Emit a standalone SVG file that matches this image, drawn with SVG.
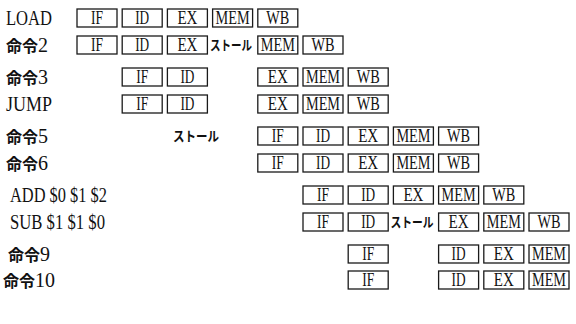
<svg xmlns="http://www.w3.org/2000/svg" width="576" height="324" viewBox="0 0 576 324">
  <style>
    .box{fill:#fff;stroke:#1a1a1a;stroke-width:1.3}
    .st{font-family:"Liberation Serif",serif;font-size:18.5px;fill:#111;text-anchor:middle}
    .lbl{font-family:"Liberation Serif",serif;font-size:20px;fill:#111}
    .kj{font-family:"Noto Sans CJK JP",sans-serif;font-size:16px;font-weight:700}
    .stall{font-family:"Noto Sans CJK JP",sans-serif;font-size:13.5px;font-weight:700;fill:#111;text-anchor:middle}
  </style>

  <!-- instruction labels -->
  <g id="labels">
    <text class="lbl" x="6" y="24.5" textLength="46" lengthAdjust="spacingAndGlyphs">LOAD</text>
    <text class="lbl" x="6" y="51.5"><tspan class="kj">命令</tspan>2</text>
    <text class="lbl" x="6" y="83.5"><tspan class="kj">命令</tspan>3</text>
    <text class="lbl" x="6" y="110.5" textLength="46" lengthAdjust="spacingAndGlyphs">JUMP</text>
    <text class="lbl" x="6" y="142.5"><tspan class="kj">命令</tspan>5</text>
    <text class="lbl" x="6" y="169.5"><tspan class="kj">命令</tspan>6</text>
    <text class="lbl" x="10" y="201.5" textLength="97" lengthAdjust="spacingAndGlyphs">ADD $0 $1 $2</text>
    <text class="lbl" x="10" y="228.5" textLength="95" lengthAdjust="spacingAndGlyphs">SUB $1 $1 $0</text>
    <text class="lbl" x="8" y="260.5"><tspan class="kj">命令</tspan>9</text>
    <text class="lbl" x="3" y="286.5"><tspan class="kj">命令</tspan>10</text>
  </g>

  <!-- row 1: LOAD -->
  <g id="r1">
    <g id="r1-if"><rect class="box" x="77" y="9" width="40" height="18"/><text class="st" x="97" y="24" textLength="12" lengthAdjust="spacingAndGlyphs">IF</text></g>
    <g id="r1-id"><rect class="box" x="122.2" y="9" width="40" height="18"/><text class="st" x="142.2" y="24" textLength="14" lengthAdjust="spacingAndGlyphs">ID</text></g>
    <g id="r1-ex"><rect class="box" x="167.4" y="9" width="40" height="18"/><text class="st" x="187.4" y="24" textLength="20" lengthAdjust="spacingAndGlyphs">EX</text></g>
    <g id="r1-mem"><rect class="box" x="212.6" y="9" width="40" height="18"/><text class="st" x="232.6" y="24" textLength="34" lengthAdjust="spacingAndGlyphs">MEM</text></g>
    <g id="r1-wb"><rect class="box" x="257.8" y="9" width="40" height="18"/><text class="st" x="277.8" y="24" textLength="23" lengthAdjust="spacingAndGlyphs">WB</text></g>
  </g>

  <!-- row 2 -->
  <g id="r2">
    <g id="r2-if"><rect class="box" x="77" y="36" width="40" height="18"/><text class="st" x="97" y="51" textLength="12" lengthAdjust="spacingAndGlyphs">IF</text></g>
    <g id="r2-id"><rect class="box" x="122.2" y="36" width="40" height="18"/><text class="st" x="142.2" y="51" textLength="14" lengthAdjust="spacingAndGlyphs">ID</text></g>
    <g id="r2-ex"><rect class="box" x="167.4" y="36" width="40" height="18"/><text class="st" x="187.4" y="51" textLength="20" lengthAdjust="spacingAndGlyphs">EX</text></g>
    <g id="r2-stall"><text class="stall" x="231" y="50" textLength="42" lengthAdjust="spacingAndGlyphs">ストール</text></g>
    <g id="r2-mem"><rect class="box" x="257.8" y="36" width="40" height="18"/><text class="st" x="277.8" y="51" textLength="34" lengthAdjust="spacingAndGlyphs">MEM</text></g>
    <g id="r2-wb"><rect class="box" x="303" y="36" width="40" height="18"/><text class="st" x="323" y="51" textLength="23" lengthAdjust="spacingAndGlyphs">WB</text></g>
  </g>

  <!-- row 3 -->
  <g id="r3">
    <g id="r3-if"><rect class="box" x="122.2" y="68" width="40" height="18"/><text class="st" x="142.2" y="83" textLength="12" lengthAdjust="spacingAndGlyphs">IF</text></g>
    <g id="r3-id"><rect class="box" x="167.4" y="68" width="40" height="18"/><text class="st" x="187.4" y="83" textLength="14" lengthAdjust="spacingAndGlyphs">ID</text></g>
    <g id="r3-ex"><rect class="box" x="257.8" y="68" width="40" height="18"/><text class="st" x="277.8" y="83" textLength="20" lengthAdjust="spacingAndGlyphs">EX</text></g>
    <g id="r3-mem"><rect class="box" x="303" y="68" width="40" height="18"/><text class="st" x="323" y="83" textLength="34" lengthAdjust="spacingAndGlyphs">MEM</text></g>
    <g id="r3-wb"><rect class="box" x="348.2" y="68" width="40" height="18"/><text class="st" x="368.2" y="83" textLength="23" lengthAdjust="spacingAndGlyphs">WB</text></g>
  </g>

  <!-- row 4: JUMP -->
  <g id="r4">
    <g id="r4-if"><rect class="box" x="122.2" y="95" width="40" height="18"/><text class="st" x="142.2" y="110" textLength="12" lengthAdjust="spacingAndGlyphs">IF</text></g>
    <g id="r4-id"><rect class="box" x="167.4" y="95" width="40" height="18"/><text class="st" x="187.4" y="110" textLength="14" lengthAdjust="spacingAndGlyphs">ID</text></g>
    <g id="r4-ex"><rect class="box" x="257.8" y="95" width="40" height="18"/><text class="st" x="277.8" y="110" textLength="20" lengthAdjust="spacingAndGlyphs">EX</text></g>
    <g id="r4-mem"><rect class="box" x="303" y="95" width="40" height="18"/><text class="st" x="323" y="110" textLength="34" lengthAdjust="spacingAndGlyphs">MEM</text></g>
    <g id="r4-wb"><rect class="box" x="348.2" y="95" width="40" height="18"/><text class="st" x="368.2" y="110" textLength="23" lengthAdjust="spacingAndGlyphs">WB</text></g>
  </g>

  <!-- row 5 -->
  <g id="r5">
    <g id="r5-stall"><text class="stall" x="196" y="141" textLength="46" lengthAdjust="spacingAndGlyphs">ストール</text></g>
    <g id="r5-if"><rect class="box" x="257.8" y="127" width="40" height="18"/><text class="st" x="277.8" y="142" textLength="12" lengthAdjust="spacingAndGlyphs">IF</text></g>
    <g id="r5-id"><rect class="box" x="303" y="127" width="40" height="18"/><text class="st" x="323" y="142" textLength="14" lengthAdjust="spacingAndGlyphs">ID</text></g>
    <g id="r5-ex"><rect class="box" x="348.2" y="127" width="40" height="18"/><text class="st" x="368.2" y="142" textLength="20" lengthAdjust="spacingAndGlyphs">EX</text></g>
    <g id="r5-mem"><rect class="box" x="393.4" y="127" width="40" height="18"/><text class="st" x="413.4" y="142" textLength="34" lengthAdjust="spacingAndGlyphs">MEM</text></g>
    <g id="r5-wb"><rect class="box" x="438.6" y="127" width="40" height="18"/><text class="st" x="458.6" y="142" textLength="23" lengthAdjust="spacingAndGlyphs">WB</text></g>
  </g>

  <!-- row 6 -->
  <g id="r6">
    <g id="r6-if"><rect class="box" x="257.8" y="154" width="40" height="18"/><text class="st" x="277.8" y="169" textLength="12" lengthAdjust="spacingAndGlyphs">IF</text></g>
    <g id="r6-id"><rect class="box" x="303" y="154" width="40" height="18"/><text class="st" x="323" y="169" textLength="14" lengthAdjust="spacingAndGlyphs">ID</text></g>
    <g id="r6-ex"><rect class="box" x="348.2" y="154" width="40" height="18"/><text class="st" x="368.2" y="169" textLength="20" lengthAdjust="spacingAndGlyphs">EX</text></g>
    <g id="r6-mem"><rect class="box" x="393.4" y="154" width="40" height="18"/><text class="st" x="413.4" y="169" textLength="34" lengthAdjust="spacingAndGlyphs">MEM</text></g>
    <g id="r6-wb"><rect class="box" x="438.6" y="154" width="40" height="18"/><text class="st" x="458.6" y="169" textLength="23" lengthAdjust="spacingAndGlyphs">WB</text></g>
  </g>

  <!-- row 7: ADD -->
  <g id="r7">
    <g id="r7-if"><rect class="box" x="303" y="186" width="40" height="18"/><text class="st" x="323" y="201" textLength="12" lengthAdjust="spacingAndGlyphs">IF</text></g>
    <g id="r7-id"><rect class="box" x="348.2" y="186" width="40" height="18"/><text class="st" x="368.2" y="201" textLength="14" lengthAdjust="spacingAndGlyphs">ID</text></g>
    <g id="r7-ex"><rect class="box" x="393.4" y="186" width="40" height="18"/><text class="st" x="413.4" y="201" textLength="20" lengthAdjust="spacingAndGlyphs">EX</text></g>
    <g id="r7-mem"><rect class="box" x="438.6" y="186" width="40" height="18"/><text class="st" x="458.6" y="201" textLength="34" lengthAdjust="spacingAndGlyphs">MEM</text></g>
    <g id="r7-wb"><rect class="box" x="483.8" y="186" width="40" height="18"/><text class="st" x="503.8" y="201" textLength="23" lengthAdjust="spacingAndGlyphs">WB</text></g>
  </g>

  <!-- row 8: SUB -->
  <g id="r8">
    <g id="r8-if"><rect class="box" x="303" y="213" width="40" height="18"/><text class="st" x="323" y="228" textLength="12" lengthAdjust="spacingAndGlyphs">IF</text></g>
    <g id="r8-id"><rect class="box" x="348.2" y="213" width="40" height="18"/><text class="st" x="368.2" y="228" textLength="14" lengthAdjust="spacingAndGlyphs">ID</text></g>
    <g id="r8-stall"><text class="stall" x="412" y="227" textLength="43" lengthAdjust="spacingAndGlyphs">ストール</text></g>
    <g id="r8-ex"><rect class="box" x="438.6" y="213" width="40" height="18"/><text class="st" x="458.6" y="228" textLength="20" lengthAdjust="spacingAndGlyphs">EX</text></g>
    <g id="r8-mem"><rect class="box" x="483.8" y="213" width="40" height="18"/><text class="st" x="503.8" y="228" textLength="34" lengthAdjust="spacingAndGlyphs">MEM</text></g>
    <g id="r8-wb"><rect class="box" x="529" y="213" width="40" height="18"/><text class="st" x="549" y="228" textLength="23" lengthAdjust="spacingAndGlyphs">WB</text></g>
  </g>

  <!-- row 9 -->
  <g id="r9">
    <g id="r9-if"><rect class="box" x="348.2" y="245" width="40" height="18"/><text class="st" x="368.2" y="260" textLength="12" lengthAdjust="spacingAndGlyphs">IF</text></g>
    <g id="r9-id"><rect class="box" x="438.6" y="245" width="40" height="18"/><text class="st" x="458.6" y="260" textLength="14" lengthAdjust="spacingAndGlyphs">ID</text></g>
    <g id="r9-ex"><rect class="box" x="483.8" y="245" width="40" height="18"/><text class="st" x="503.8" y="260" textLength="20" lengthAdjust="spacingAndGlyphs">EX</text></g>
    <g id="r9-mem"><rect class="box" x="529" y="245" width="40" height="18"/><text class="st" x="549" y="260" textLength="34" lengthAdjust="spacingAndGlyphs">MEM</text></g>
  </g>

  <!-- row 10 -->
  <g id="r10">
    <g id="r10-if"><rect class="box" x="348.2" y="271" width="40" height="18"/><text class="st" x="368.2" y="286" textLength="12" lengthAdjust="spacingAndGlyphs">IF</text></g>
    <g id="r10-id"><rect class="box" x="438.6" y="271" width="40" height="18"/><text class="st" x="458.6" y="286" textLength="14" lengthAdjust="spacingAndGlyphs">ID</text></g>
    <g id="r10-ex"><rect class="box" x="483.8" y="271" width="40" height="18"/><text class="st" x="503.8" y="286" textLength="20" lengthAdjust="spacingAndGlyphs">EX</text></g>
    <g id="r10-mem"><rect class="box" x="529" y="271" width="40" height="18"/><text class="st" x="549" y="286" textLength="34" lengthAdjust="spacingAndGlyphs">MEM</text></g>
  </g>
</svg>
